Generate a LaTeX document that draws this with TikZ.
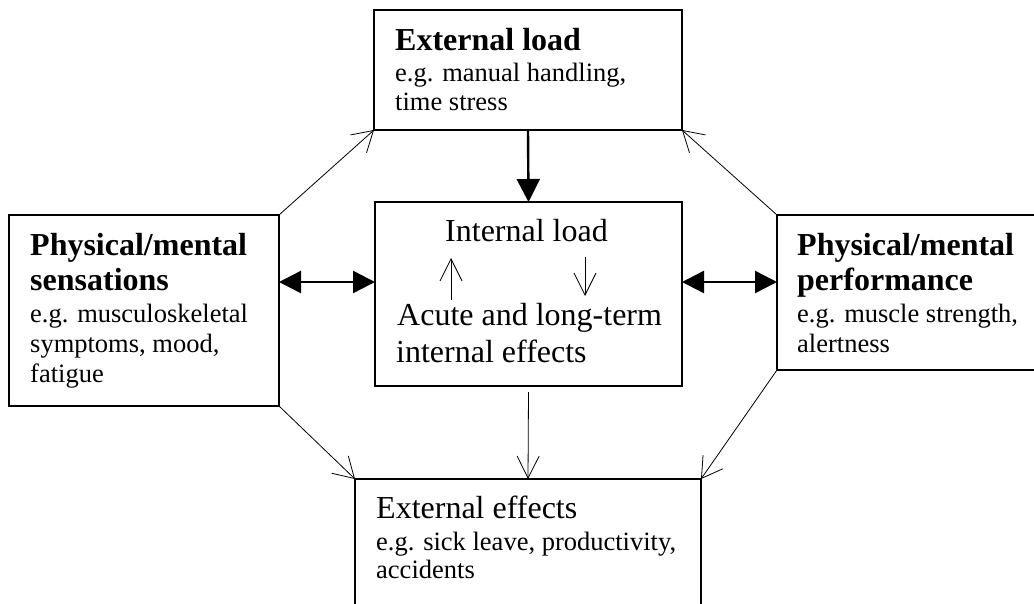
\documentclass[tikz,border=0pt]{standalone}
\usepackage{fontspec}
\setmainfont{Liberation Serif}
\usetikzlibrary{arrows.meta}
\newcommand\hdfont{\fontsize{32}{36}\selectfont\bfseries}
\newcommand\bgfont{\fontsize{32}{36}\selectfont}
\newcommand\sbfont{\fontsize{26.5}{30}\selectfont}
\tikzset{
  box/.style={draw, line width=1.8pt, inner sep=0pt, outer sep=0pt, anchor=north west},
  txt/.style={inner sep=0pt, anchor=base west},
  thinarrow/.style={line width=0.8pt, -{Straight Barb[length=20pt,width=24pt,line width=0.8pt]}},
  smallarrow/.style={line width=0.8pt, -{Straight Barb[length=22pt,width=22pt,line width=0.8pt]}},
  thickarrow/.style={line width=2.4pt, -{Triangle[length=23pt,width=23pt]}},
  dblarrow/.style={line width=2.4pt, {Triangle[length=22pt,width=22pt]}-{Triangle[length=22pt,width=22pt]}}
}
\begin{document}
\begin{tikzpicture}[x=1pt,y=-1pt]
\useasboundingbox (0,0) rectangle (1034,603);
\clip (0,0) rectangle (1034,603);
\fill[white] (0,0) rectangle (1034,603);

% boxes
\node[box, minimum width=308pt, minimum height=120pt] (ext) at (374,10) {};
\node[box, minimum width=307pt, minimum height=184pt] (int) at (375,202) {};
\node[box, minimum width=270pt, minimum height=191pt] (sens) at (9,215) {};
\node[box, minimum width=280pt, minimum height=155pt] (perf) at (777,215) {};
\node[box, minimum width=346pt, minimum height=150pt] (eff) at (355,479) {};

% texts
\node[txt] (e1) at (395,50) {\hdfont External load};
\node[txt] (e2) at (395,81) {\sbfont e.g. manual handling,};
\node[txt] (e3) at (395,110) {\sbfont time stress};

\node[txt] (s1) at (30,255) {\hdfont Physical/mental};
\node[txt] (s2) at (30,290) {\hdfont sensations};
\node[txt] (s3) at (30,322) {\sbfont e.g. musculoskeletal};
\node[txt] (s4) at (30,352) {\sbfont symptoms, mood,};
\node[txt] (s5) at (30,382) {\sbfont fatigue};

\node[txt] (p1) at (797,255) {\hdfont Physical/mental};
\node[txt] (p2) at (797,290) {\hdfont performance};
\node[txt] (p3) at (797,322) {\sbfont e.g. muscle strength,};
\node[txt] (p4) at (797,352) {\sbfont alertness};

\node[txt] (i1) at (445,241) {\bgfont Internal load};
\node[txt] (i2) at (397,325) {\bgfont Acute and long-term};
\node[txt] (i3) at (396,362) {\bgfont internal effects};

\node[txt] (x1) at (376,518) {\bgfont External effects};
\node[txt] (x2) at (376,550) {\sbfont e.g. sick leave, productivity,};
\node[txt] (x3) at (376,578) {\sbfont accidents};

% connector helpers
\coordinate (dy) at (0,282);
\coordinate (upA) at (451,300);
\coordinate (upB) at (451,258);
\coordinate (dnA) at (585,257);
\coordinate (dnB) at (585,296);
\coordinate (intb) at ([yshift=-6pt]int.south);

% connectors
\draw[thickarrow] (ext.south) -- (int.north);
\draw[dblarrow] (sens.east |- dy) -- (int.west |- dy);
\draw[dblarrow] (int.east |- dy) -- (perf.west |- dy);
\draw[thinarrow] (sens.north east) -- (ext.south west);
\draw[thinarrow] (perf.north west) -- (ext.south east);
\draw[thinarrow] (sens.south east) -- (eff.north west);
\draw[thinarrow] (perf.south west) -- (eff.north east);
\draw[smallarrow] (intb) -- (eff.north);
\draw[smallarrow] (upA) -- (upB);
\draw[smallarrow] (dnA) -- (dnB);
\end{tikzpicture}
\end{document}
